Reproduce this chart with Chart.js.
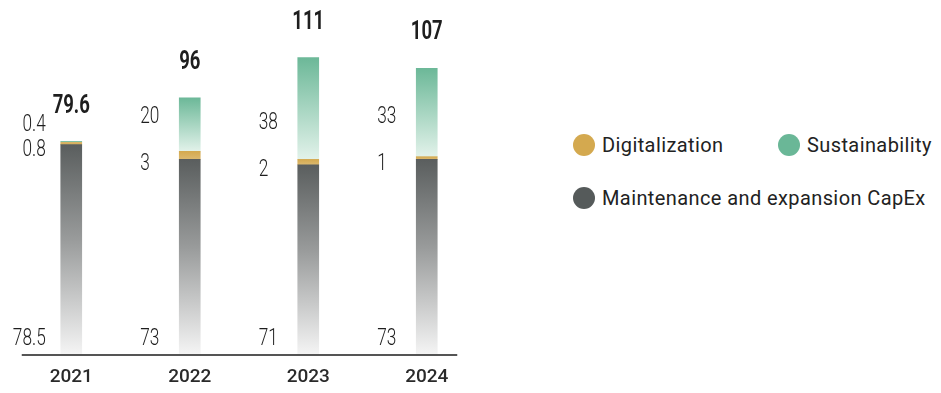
<!DOCTYPE html>
<html>
<head>
<meta charset="utf-8">
<script src="https://cdn.jsdelivr.net/npm/chart.js@4.4.1/dist/chart.umd.min.js"></script>
<style>
  html, body { margin: 0; padding: 0; background: #fff; }
  #wrap { position: relative; width: 941px; height: 393px; }
  #chart-box { position: absolute; left: 0; top: 0; width: 500px; height: 393px; }
  #legend { position: absolute; left: 573px; top: 0; font-family: Roboto, sans-serif; font-size: 20px; letter-spacing: 0.4px; color: #222; }
  .item { position: absolute; display: flex; align-items: center; white-space: nowrap; height: 22px; }
  .dot { width: 22px; height: 22px; border-radius: 50%; margin-right: 7px; flex: none; }
</style>
</head>
<body>
<div id="wrap">
  <div id="chart-box"><canvas id="capex"></canvas></div>
  <div id="legend"></div>
</div>
<script>
// CapEx split per year (stacked from the bottom up)
const years = ['2021', '2022', '2023', '2024'];
const maintenance = [78.5, 73, 71, 73];
const digitalization = [0.8, 3, 2, 1];
const sustainability = [0.4, 20, 38, 33];
const totals = ['79.6', '96', '111', '107'];

const COLORS = {
  digital: '#d4a94f',
  sustain: '#6ab797',
  maint: '#555a5a'
};

// vertical gradient spanning a single stacked segment
function segmentGradient(context, stops, below) {
  const chart = context.chart;
  if (!chart.chartArea) return stops[0][1];
  const y = chart.scales.y;
  const i = context.dataIndex;
  const base = below.reduce((sum, arr) => sum + arr[i], 0);
  const top = base + context.dataset.data[i];
  const g = chart.ctx.createLinearGradient(0, y.getPixelForValue(top), 0, y.getPixelForValue(base));
  stops.forEach(([o, c]) => g.addColorStop(o, c));
  return g;
}

const SQUEEZE = 0.72;
const LIGHT = '300 24px Roboto, sans-serif';
const BOLD = 'bold 25px Roboto, sans-serif';

function drawNarrow(ctx, text, x, y, align, font, squeeze) {
  ctx.save();
  ctx.translate(x, y);
  ctx.scale(squeeze, 1);
  ctx.font = font;
  ctx.fillStyle = '#1e1e1e';
  ctx.textAlign = align;
  ctx.textBaseline = 'middle';
  ctx.fillText(text, 0, 0);
  ctx.restore();
}

function narrowWidth(ctx, text, font, squeeze) {
  ctx.save();
  ctx.font = font;
  const w = ctx.measureText(text).width * squeeze;
  ctx.restore();
  return w;
}

// segment values to the left of each bar, totals above it, and the base line
const barLabels = {
  id: 'barLabels',
  afterDatasetsDraw(chart) {
    const { ctx, chartArea } = chart;
    const mMeta = chart.getDatasetMeta(0);
    const sMeta = chart.getDatasetMeta(2);

    years.forEach((yr, i) => {
      const bar = mMeta.data[i];
      const left = bar.x - bar.width / 2;
      const texts = [maintenance[i], digitalization[i], sustainability[i]].map(String);
      const widest = Math.max(...texts.map(t => narrowWidth(ctx, t, LIGHT, SQUEEZE)));
      // short labels sit in a left-aligned column, wider ones hug the bar
      const align = widest > 24 ? 'right' : 'left';
      const lx = widest > 24 ? left - 15 : left - 39;

      const yMaint = chartArea.bottom - 16;
      const yDig = bar.y + 5;
      const sBar = sMeta.data[i];
      const ySus = (sBar.base - sBar.y) > 40 ? yDig - 47 : yDig - 25;

      drawNarrow(ctx, texts[0], lx, yMaint, align, LIGHT, SQUEEZE);
      drawNarrow(ctx, texts[1], lx, yDig, align, LIGHT, SQUEEZE);
      drawNarrow(ctx, texts[2], lx, ySus, align, LIGHT, SQUEEZE);
      drawNarrow(ctx, totals[i], bar.x, sBar.y - 35, 'center', BOLD, 0.74);
    });

    const first = mMeta.data[0];
    const last = mMeta.data[years.length - 1];
    ctx.save();
    ctx.strokeStyle = '#555';
    ctx.lineWidth = 2;
    ctx.beginPath();
    ctx.moveTo(first.x - first.width / 2 - 39, chartArea.bottom);
    ctx.lineTo(last.x + last.width / 2 + 20, chartArea.bottom);
    ctx.stroke();
    ctx.restore();
  }
};

const datasets = [
  {
    label: 'Maintenance and expansion CapEx',
    data: maintenance,
    legendColor: COLORS.maint,
    backgroundColor: (c) => segmentGradient(c, [[0, '#5a5e5e'], [0.45, '#999b9b'], [1, '#f5f5f5']], [])
  },
  {
    label: 'Digitalization',
    data: digitalization,
    legendColor: COLORS.digital,
    backgroundColor: (c) => segmentGradient(c, [[0, '#d4a94f'], [1, '#dcb96f']], [maintenance])
  },
  {
    label: 'Sustainability',
    data: sustainability,
    legendColor: COLORS.sustain,
    backgroundColor: (c) => segmentGradient(c, [[0, '#6cb898'], [1, '#e2f2ea']], [maintenance, digitalization])
  }
];

const chart = new Chart(document.getElementById('capex'), {
  type: 'bar',
  data: { labels: years, datasets: datasets.map(d => ({ ...d, borderWidth: 0, barThickness: 21 })) },
  options: {
    responsive: true,
    maintainAspectRatio: false,
    animation: false,
    layout: { padding: { left: 12, right: 14, top: 20, bottom: -7 } },
    plugins: { legend: { display: false }, tooltip: { enabled: false } },
    scales: {
      x: {
        stacked: true,
        grid: { display: false, drawTicks: false },
        border: { display: false },
        ticks: {
          color: '#2a2a2a',
          padding: 13,
          font: { family: 'Roboto, sans-serif', size: 19, weight: '500', lineHeight: 1 }
        }
      },
      y: {
        stacked: true,
        display: false,
        min: 0,
        max: 125
      }
    }
  },
  plugins: [barLabels]
});

// legend: two entries on the first row, the CapEx entry below
const legendPos = { 'Digitalization': [0, 134], 'Sustainability': [205, 134], 'Maintenance and expansion CapEx': [0, 187] };
const legendOrder = ['Digitalization', 'Sustainability', 'Maintenance and expansion CapEx'];
const legendEl = document.getElementById('legend');
legendOrder.forEach(name => {
  const ds = chart.data.datasets.find(d => d.label === name);
  const item = document.createElement('div');
  item.className = 'item';
  item.style.left = legendPos[name][0] + 'px';
  item.style.top = legendPos[name][1] + 'px';
  item.innerHTML = '<span class="dot" style="background:' + ds.legendColor + '"></span><span>' + name + '</span>';
  legendEl.appendChild(item);
});
</script>
</body>
</html>
